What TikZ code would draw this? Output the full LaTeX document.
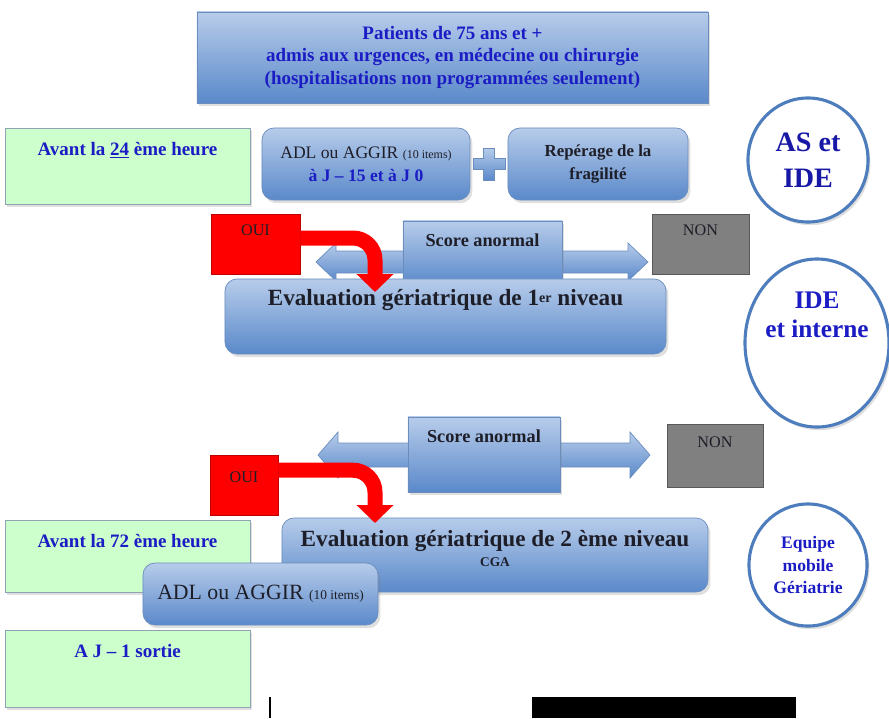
\documentclass[tikz,border=0pt]{standalone}
\usepackage{fontspec}
\setmainfont{Liberation Serif}
\usetikzlibrary{shapes.geometric,arrows.meta,positioning,calc,shadows}

\definecolor{boxtop}{HTML}{B7CCEA}
\definecolor{boxbot}{HTML}{5A89CA}
\definecolor{boxline}{HTML}{6A8DBE}
\definecolor{txtblue}{HTML}{1C1CC4}
\definecolor{txtdark}{HTML}{1E1E28}
\definecolor{greenfill}{HTML}{CCFFCC}
\definecolor{greenline}{HTML}{8FA3B5}
\definecolor{ringblue}{HTML}{4D7DBD}
\definecolor{nongray}{HTML}{808080}

\begin{document}
\begin{tikzpicture}[
    x=0.025cm, y=-0.025cm,
    softshadow/.style={drop shadow={opacity=0.25, shadow xshift=0.6mm, shadow yshift=-0.8mm}},
    bluebox/.style={draw=boxline, line width=0.5pt, top color=boxtop, bottom color=boxbot, softshadow, align=center, inner sep=2pt},
    roundbox/.style={bluebox, rounded corners=0.3cm},
    greenbox/.style={draw=greenline, line width=0.5pt, fill=greenfill, softshadow, minimum width=6.125cm},
    ring/.style={ellipse, draw=ringblue, line width=2.2pt, fill=white, softshadow, align=center},
    ouibox/.style={draw=red!75!black, line width=0.5pt, fill=red},
    nonbox/.style={draw=gray!70!black, line width=0.5pt, fill=nongray},
    bluebold/.style={text=txtblue, font=\fontsize{13.5}{15.8}\selectfont\bfseries},
    greenlbl/.style={text=txtblue, font=\fontsize{13.5}{16}\selectfont\bfseries},
    darkbold/.style={text=txtdark, font=\fontsize{13}{16}\selectfont\bfseries},
    darkplain/.style={text=txtdark, font=\fontsize{11.5}{13}\selectfont},
    titlefont/.style={text=txtdark, font=\fontsize{16.5}{18}\selectfont\bfseries},
    dblarrow/.style={draw=boxline, line width=0.5pt, top color=boxtop, bottom color=boxbot},
    redarrow/.style={draw=red, line width=0.375cm, rounded corners=0.55cm, -{Triangle[width=0.9cm,length=0.45cm]}}
]
\useasboundingbox (0,0) rectangle (889,718);

% entree
\node[bluebox, bluebold, minimum width=12.775cm, minimum height=2.275cm] (patients) at (452.5,57.5)
  {Patients de 75 ans et +\\admis aux urgences, en médecine ou chirurgie\\(hospitalisations non programmées seulement)};

% premier niveau
\node[greenbox, minimum height=1.9cm,
  label={[anchor=north, yshift=-0.25cm, greenlbl]north:Avant la \underline{24} ème heure}] (avant24) at (127.5,166) {};
\node[roundbox, minimum width=5.2cm, minimum height=1.8cm, text=txtdark, font=\fontsize{12.5}{16.5}\selectfont] (adl1) at (366,164)
  {ADL ou AGGIR {\fontsize{8.5}{9}\selectfont(10 items)}\\{\color{txtblue}\bfseries à J – 15 et à J 0}};
\node[roundbox, darkbold, minimum width=4.5cm, minimum height=1.8cm, font=\fontsize{12}{16.5}\selectfont\bfseries] (rep) at (598,164) {Repérage de la\\fragilité};
\coordinate (plus) at ($(adl1.east)!0.5!(rep.west)$);
\shade[dblarrow] ([shift={(-16,-5.5)}]plus) -- ++(10.5,0) -- ++(0,-10.5) -- ++(11,0) -- ++(0,10.5) -- ++(10.5,0)
  -- ++(0,11) -- ++(-10.5,0) -- ++(0,10.5) -- ++(-11,0) -- ++(0,-10.5) -- ++(-10.5,0) -- cycle;
\node[ring, minimum width=3cm, minimum height=3.1cm, text=txtblue!85!black, font=\fontsize{20}{26}\selectfont\bfseries] (aside) at (808,160) {AS et\\IDE};

\node[ouibox, minimum width=2.225cm, minimum height=1.5cm,
  label={[anchor=north, yshift=-0.15cm, darkplain]north:OUI}] (oui1) at (255.5,244) {};
\node[nonbox, minimum width=2.425cm, minimum height=1.5cm,
  label={[anchor=north, yshift=-0.15cm, darkplain]north:NON}] (non1) at (700.5,244) {};

\coordinate (dl1) at (316,262);
\coordinate (dr1) at (648,262);
\shade[dblarrow] (dl1) -- ++(20,-19) -- ++(0,8) -- ($(dr1)+(-20,-11)$) -- ++(0,-8) -- (dr1) -- ++(-20,19)
  -- ++(0,-8) -- ($(dl1)+(20,11)$) -- ++(0,8) -- cycle;
\node[bluebox, minimum width=3.975cm, minimum height=1.6cm,
  label={[anchor=north, yshift=-0.2cm, darkbold]north:Score anormal}] (score1) at (482.5,253) {};

\node[roundbox, minimum width=11.025cm, minimum height=1.875cm,
  label={[anchor=north, yshift=-0.15cm, titlefont]north:Evaluation gériatrique de 1{\fontsize{10}{10}\selectfont\raisebox{0.5ex}{er}} niveau}] (eval1) at (445.5,316.5) {};
\coordinate (tip1) at (375,292);
\draw[redarrow] ([yshift=0.15cm]oui1.east) -| (tip1);

\node[ring, minimum width=3.6cm, minimum height=4.2cm,
  label={[anchor=north, yshift=-0.75cm, align=center, text=txtblue, font=\fontsize{18}{20.5}\selectfont\bfseries]north:IDE\\et interne}] (ideint) at (817,343) {};

% second niveau
\node[nonbox, minimum width=2.4cm, minimum height=1.575cm,
  label={[anchor=north, yshift=-0.2cm, darkplain]north:NON}] (non2) at (715,455.5) {};
\coordinate (dl2) at (318,455);
\coordinate (dr2) at (650,455);
\shade[dblarrow] (dl2) -- ++(20,-23) -- ++(0,11) -- ($(dr2)+(-20,-12)$) -- ++(0,-11) -- (dr2) -- ++(-20,23)
  -- ++(0,-11) -- ($(dl2)+(20,12)$) -- ++(0,11) -- cycle;
\node[bluebox, minimum width=3.8cm, minimum height=1.875cm,
  label={[anchor=north, yshift=-0.2cm, darkbold]north:Score anormal}] (score2) at (484,454.5) {};
\node[ouibox, minimum width=1.7cm, minimum height=1.5cm,
  label={[anchor=north, yshift=-0.3cm, darkplain]north:OUI}] (oui2) at (244,485) {};

\node[greenbox, minimum height=1.8cm,
  label={[anchor=north, yshift=-0.25cm, greenlbl]north:Avant la 72 ème heure}] (avant72) at (127.5,556) {};
\node[roundbox, minimum width=10.65cm, minimum height=1.85cm,
  label={[anchor=north, yshift=-0.2cm, align=center, titlefont]north:Evaluation gériatrique de 2 ème niveau\\[-4pt]{\fontsize{9.5}{11}\selectfont CGA}}] (eval2) at (495,555) {};
\coordinate (tip2) at (375,523);
\draw[redarrow] ([yshift=0.37cm]oui2.east) -| (tip2);
\node[roundbox, minimum width=5.875cm, minimum height=1.55cm, text=txtdark, font=\fontsize{15.5}{17}\selectfont] (adl2) at (260.5,594)
  {ADL ou AGGIR {\fontsize{9.5}{10}\selectfont(10 items)}};
\node[ring, minimum width=2.95cm, minimum height=3.05cm, text=txtblue, font=\fontsize{12.5}{15.8}\selectfont\bfseries] (emg) at (808,565)
  {Equipe\\mobile\\Gériatrie};

\node[greenbox, minimum height=1.925cm,
  label={[anchor=north, yshift=-0.25cm, greenlbl]north:A J – 1 sortie}] (sortie) at (127.5,668.5) {};

% bas de page
\draw[line width=0.8pt] (270,697) -- (270,718);
\fill[black] (532,697) rectangle (796,718);
\end{tikzpicture}
\end{document}
